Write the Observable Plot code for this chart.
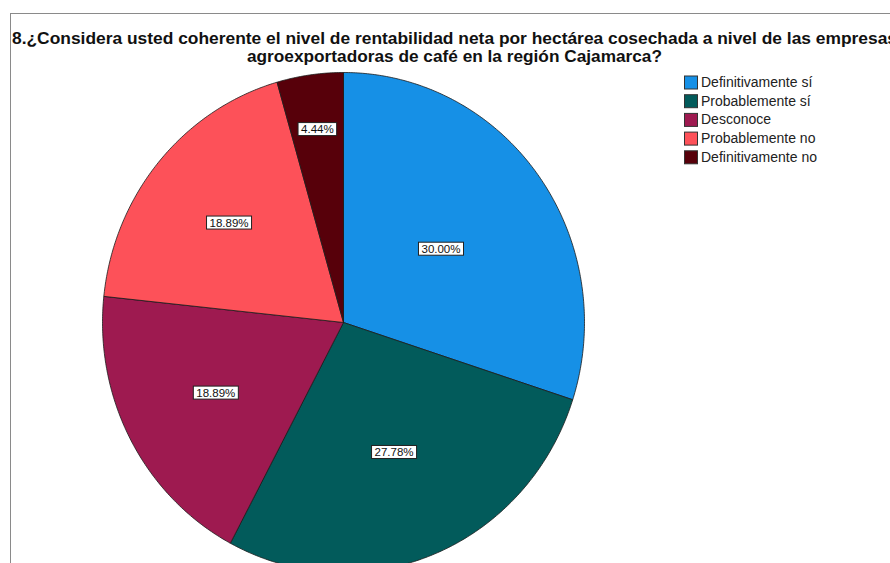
<!DOCTYPE html>
<html><head><meta charset="utf-8">
<script src="https://cdn.jsdelivr.net/npm/d3@7"></script>
<script src="https://cdn.jsdelivr.net/npm/@observablehq/plot@0.6"></script>
<style>
html,body{margin:0;padding:0;background:#fff;overflow:hidden;}
#wrap{position:relative;width:890px;height:563px;overflow:hidden;font-family:"Liberation Sans",Arial,sans-serif;}
#frame{position:absolute;left:10px;top:13px;width:1000px;height:700px;border-left:1px solid #8a8a8a;border-top:1px solid #8a8a8a;}
#chart{position:absolute;left:0;top:0;}
#overlay{position:absolute;left:0;top:0;}
</style></head><body>
<div id="wrap"><div id="frame"></div><div id="chart"></div><svg id="overlay" width="890" height="563"></svg></div>
<script>
// ---- data ----
const titleLines = [
  "8.¿Considera usted coherente el nivel de rentabilidad neta por hectárea cosechada a nivel de las empresas",
  "agroexportadoras de café en la región Cajamarca?"
];
const categories = ["Definitivamente sí", "Probablemente sí", "Desconoce", "Probablemente no", "Definitivamente no"];
const counts = [27, 25, 17, 17, 4];
const colors = ["#1690e6", "#025b5b", "#9e1a50", "#fd5159", "#57000a"];
// layout only: radial position of each percentage label (fraction of radius)
const labelRadius = [0.5, 0.56, 0.6, 0.62, 0.78];

// ---- build slices ----
const total = d3.sum(counts);
const arcs = d3.pie().sort(null).value(d => d)(counts);
const points = [];
arcs.forEach((a, i) => {
  const cat = categories[i];
  points.push({cat, x: 0, y: 0});
  const n = Math.max(2, Math.ceil((a.endAngle - a.startAngle) / 0.01));
  for (let k = 0; k <= n; k++) {
    const t = a.startAngle + (a.endAngle - a.startAngle) * k / n;
    points.push({cat, x: Math.sin(t), y: Math.cos(t)});
  }
  points.push({cat, x: 0, y: 0});
});
const labels = arcs.map((a, i) => {
  const m = (a.startAngle + a.endAngle) / 2;
  return {
    x: labelRadius[i] * Math.sin(m),
    y: labelRadius[i] * Math.cos(m),
    text: (counts[i] / total * 100).toFixed(2) + "%"
  };
});

const chart = Plot.plot({
  width: 890,
  height: 563,
  x: {domain: [-1, 1], range: [102, 584], axis: null},
  y: {domain: [-1, 1], range: [572, 72], axis: null},
  color: {domain: categories, range: colors},
  style: {background: "transparent", overflow: "visible", fontFamily: "'Liberation Sans', Arial, sans-serif"},
  marks: [
    Plot.line(points, {x: "x", y: "y", z: "cat", fill: "cat", stroke: "#1c1c1c", strokeWidth: 0.8, strokeLinejoin: "round", curve: "linear"}),
    Plot.text(labels, {x: "x", y: "y", text: "text", fontSize: 11.5, fill: "#111"})
  ]
});
document.getElementById("chart").appendChild(chart);

// white boxes behind the percentage labels
d3.select(chart).selectAll("g[aria-label=text] text").each(function() {
  const b = this.getBBox();
  const r = document.createElementNS("http://www.w3.org/2000/svg", "rect");
  const tr = this.getAttribute("transform");
  if (tr) r.setAttribute("transform", tr);
  r.setAttribute("x", b.x - 3);
  r.setAttribute("y", b.y - 0.5);
  r.setAttribute("width", b.width + 6);
  r.setAttribute("height", b.height + 1);
  r.setAttribute("fill", "#fff");
  r.setAttribute("stroke", "#222");
  r.setAttribute("stroke-width", 1);
  this.parentNode.insertBefore(r, this);
});

// ---- title and legend ----
const ov = d3.select("#overlay");
const tw = [885, 415];
titleLines.forEach((t, i) => {
  ov.append("text").attr("x", 454.5).attr("y", 44 + i * 18)
    .attr("text-anchor", "middle").attr("font-size", 16.5).attr("font-weight", "bold")
    .attr("font-family", "'Liberation Sans', Arial, sans-serif").attr("fill", "#111")
    .attr("textLength", tw[i]).attr("lengthAdjust", "spacingAndGlyphs").text(t);
});
categories.forEach((c, i) => {
  const cy = 82.5 + i * 18.7;
  ov.append("rect").attr("x", 684.5).attr("y", cy - 6.5).attr("width", 13).attr("height", 13)
    .attr("fill", colors[i]).attr("stroke", "#333").attr("stroke-width", 1);
  ov.append("text").attr("x", 701).attr("y", cy + 4.5)
    .attr("font-size", 14).attr("font-family", "'Liberation Sans', Arial, sans-serif").attr("fill", "#222")
    .text(c);
});
</script>
</body></html>
